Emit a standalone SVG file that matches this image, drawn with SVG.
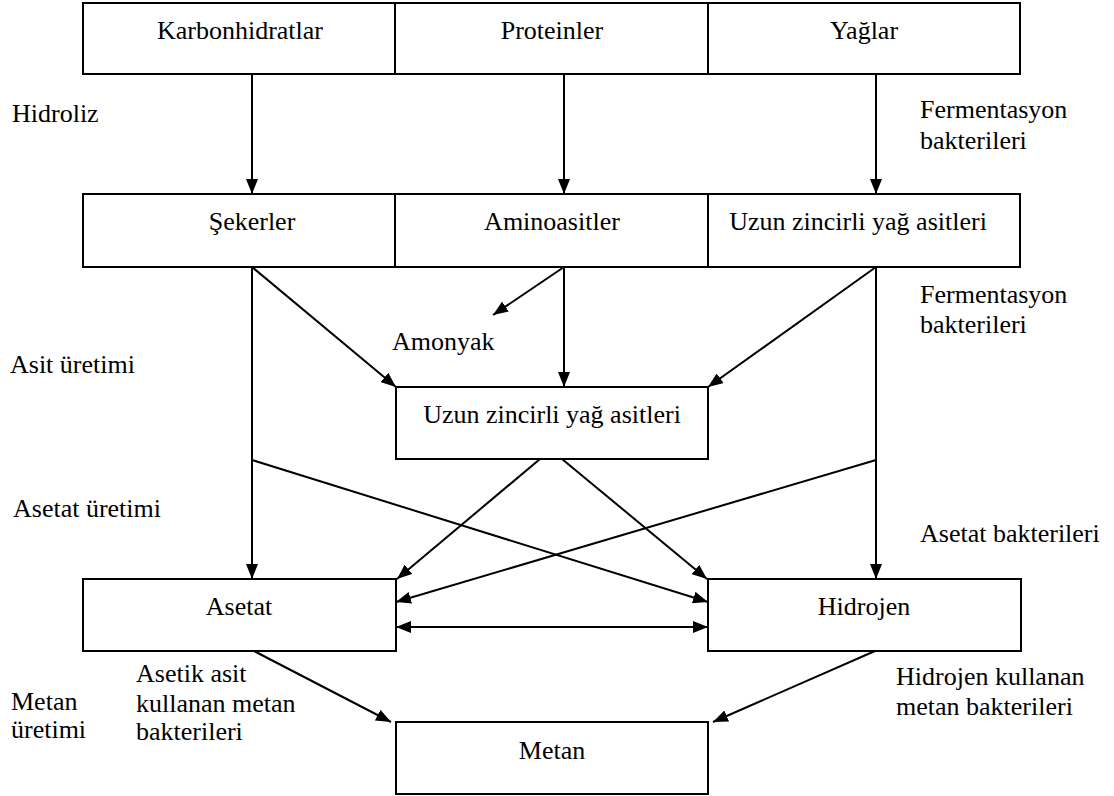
<svg xmlns="http://www.w3.org/2000/svg" width="1114" height="796" viewBox="0 0 1114 796">
<defs>
<marker id="ah" markerUnits="userSpaceOnUse" markerWidth="16" markerHeight="12" refX="15" refY="6" orient="auto-start-reverse">
<path d="M0,0 L15,6 L0,12 z" fill="#000"/>
</marker>
<style>
.box{fill:#fff;stroke:#000;stroke-width:2}
.ln{fill:none;stroke:#000;stroke-width:2;marker-end:url(#ah)}
.t{font-family:'Liberation Serif','Times New Roman','DejaVu Serif',serif;font-size:26px;fill:#000}
.c{text-anchor:middle}
</style>
</defs>
<rect width="1114" height="796" fill="#fff"/>
<g id="connectors">
<line class="ln" x1="252" y1="74" x2="252" y2="194"/>
<line class="ln" x1="564" y1="74" x2="564" y2="194"/>
<line class="ln" x1="876" y1="74" x2="876" y2="194"/>
<line class="ln" x1="252" y1="267" x2="396" y2="387"/>
<line class="ln" x1="564" y1="267" x2="493" y2="315"/>
<line class="ln" x1="564" y1="267" x2="564" y2="387"/>
<line class="ln" x1="876" y1="267" x2="708" y2="387"/>
<line class="ln" x1="252" y1="267" x2="252" y2="579"/>
<line class="ln" x1="876" y1="267" x2="876" y2="579"/>
<line class="ln" x1="252" y1="460" x2="708" y2="602"/>
<line class="ln" x1="876" y1="460" x2="396" y2="602"/>
<line class="ln" x1="540" y1="459" x2="397" y2="579"/>
<line class="ln" x1="562" y1="459" x2="707" y2="579"/>
<line class="ln" x1="396" y1="627" x2="708" y2="627" style="marker-start:url(#ah)"/>
<line class="ln" x1="254" y1="651" x2="391" y2="722"/>
<line class="ln" x1="875" y1="651" x2="713" y2="722"/>
</g>
<g font-family="Liberation Serif, Times New Roman, serif" font-size="26">
<g id="karbonhidratlar"><rect class="box" x="83" y="3" width="312" height="71"/><text class="t c" x="240" y="39">Karbonhidratlar</text></g>
<g id="proteinler"><rect class="box" x="395" y="3" width="313" height="71"/><text class="t c" x="552" y="39">Proteinler</text></g>
<g id="yaglar"><rect class="box" x="708" y="3" width="312" height="71"/><text class="t c" x="864" y="39">Yağlar</text></g>
<g id="sekerler"><rect class="box" x="83" y="194" width="312" height="73"/><text class="t c" x="252" y="230">Şekerler</text></g>
<g id="aminoasitler"><rect class="box" x="395" y="194" width="313" height="73"/><text class="t c" x="552" y="230">Aminoasitler</text></g>
<g id="uzun1"><rect class="box" x="708" y="194" width="312" height="73"/><text class="t c" x="858" y="230">Uzun zincirli yağ asitleri</text></g>
<g id="uzun2"><rect class="box" x="396" y="387" width="312" height="72"/><text class="t c" x="552" y="423">Uzun zincirli yağ asitleri</text></g>
<g id="asetat"><rect class="box" x="83" y="579" width="313" height="72"/><text class="t c" x="239" y="615">Asetat</text></g>
<g id="hidrojen"><rect class="box" x="708" y="579" width="313" height="72"/><text class="t c" x="864" y="615">Hidrojen</text></g>
<g id="metan"><rect class="box" x="396" y="722" width="312" height="72"/><text class="t c" x="552" y="759">Metan</text></g>
<g id="labels">
<text class="t" x="12" y="122">Hidroliz</text>
<text class="t" x="920" y="118">Fermentasyon</text>
<text class="t" x="920" y="149">bakterileri</text>
<text class="t" x="920" y="303">Fermentasyon</text>
<text class="t" x="920" y="333">bakterileri</text>
<text class="t" x="392" y="350">Amonyak</text>
<text class="t" x="10" y="373">Asit üretimi</text>
<text class="t" x="13" y="517">Asetat üretimi</text>
<text class="t" x="920" y="542">Asetat bakterileri</text>
<text class="t" x="136" y="682">Asetik asit</text>
<text class="t" x="136" y="712">kullanan metan</text>
<text class="t" x="136" y="740">bakterileri</text>
<text class="t" x="11" y="710">Metan</text>
<text class="t" x="11" y="738">üretimi</text>
<text class="t" x="896" y="685">Hidrojen kullanan</text>
<text class="t" x="896" y="715">metan bakterileri</text>
</g>
</g>
</svg>
